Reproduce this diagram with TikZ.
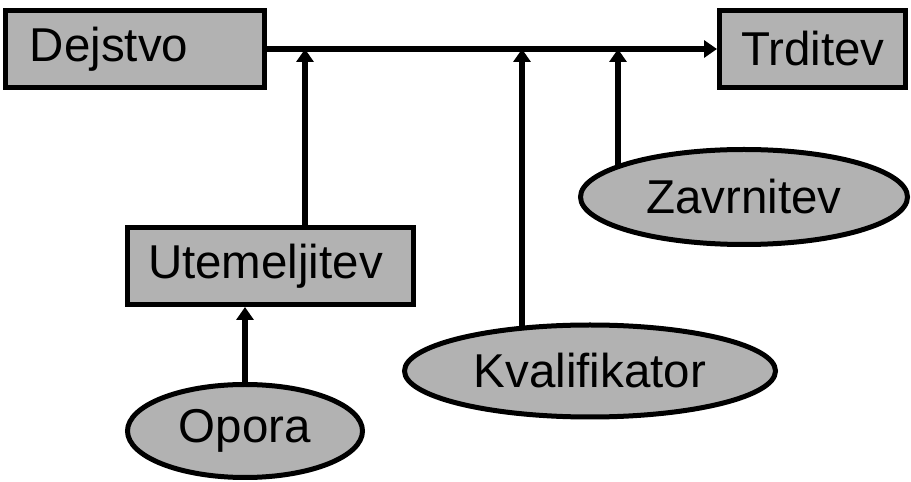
\documentclass[tikz,border=0pt]{standalone}
\usepackage{fontspec}
\setmainfont{Liberation Sans}
\usepackage{xcolor}
\usetikzlibrary{arrows.meta,positioning,calc,shapes.geometric,backgrounds}
\definecolor{partgray}{RGB}{178,178,178}

\begin{document}
\begin{tikzpicture}[x=1pt,y=1pt,
	partbox/.style={draw,rectangle,line width=5pt,fill=partgray,
		inner ysep=0pt,minimum height=77pt,align=left,
		font=\fontsize{47.5}{55}\selectfont},
	partoval/.style={draw,ellipse,line width=5pt,fill=partgray,inner sep=0pt,
		font=\fontsize{47.5}{55}\selectfont},
	link/.style={line width=6pt,-{Triangle[length=13pt,width=17pt]}}]
	\useasboundingbox (0,0) rectangle (911,482);
	
	% boxes
	\node[partbox,inner xsep=24.5pt,text width=210pt] (Dejstvo) at (135,433) {Dejstvo};
	\node[partbox,inner xsep=21.5pt,text width=143pt] (Trditev) at (812.5,433) {Trditev};
	\node[partbox,inner xsep=20.5pt,text width=245pt] (Utemeljitev) at (270.5,216) {Utemeljitev};
	
	% ovals
	\node[partoval,minimum width=235pt,minimum height=93pt] (Opora) at (245,51) {Opora};
	\node[partoval,minimum width=371pt,minimum height=92pt] (Kvalifikator) at (590,111) {Kvalifikator};
	\node[partoval,minimum width=327pt,minimum height=95pt] (Zavrnitev) at (744,285) {Zavrnitev};
	
	% joints on the main line
	\coordinate (jU) at (305,433);
	\coordinate (jK) at (522,433);
	\coordinate (jZ) at (618,433);
	
	\draw[link] (Dejstvo.east) -- (Trditev.west);
	\draw[link] (Utemeljitev.north -| jU) -- (jU);
	\draw[link] (Opora.north) -- (Opora.north |- Utemeljitev.south);
	\begin{scope}[on background layer]
		\draw[link] (Kvalifikator.center -| jK) -- (jK);
		\draw[link] (Zavrnitev.center -| jZ) -- (jZ);
	\end{scope}
\end{tikzpicture}
\end{document}
